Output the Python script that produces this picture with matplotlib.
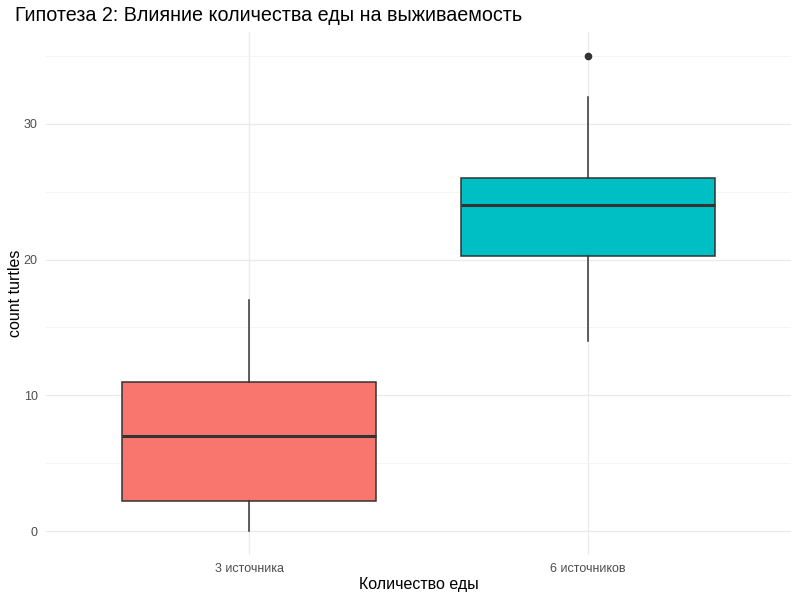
import matplotlib.pyplot as plt

plt.rcParams['font.family'] = ['Liberation Sans', 'DejaVu Sans']

# Box statistics
groups = ['3 источника', '6 источников']
whislo = [0, 14]
q1 = [2.25, 20.25]
med = [7, 24]
q3 = [11, 26]
whishi = [17, 32]
fliers = [[], [35]]
colors = ['#F8766D', '#00BFC4']

stats = []
for i, g in enumerate(groups):
    stats.append(dict(label=g, whislo=whislo[i], q1=q1[i], med=med[i],
                      q3=q3[i], whishi=whishi[i], fliers=fliers[i]))

fig = plt.figure(figsize=(8, 6), dpi=100)
ax = fig.add_axes([0.0575, 0.075, 0.9315, 0.8717])

bp = ax.bxp(stats, positions=[1, 2], widths=0.75, patch_artist=True,
            showcaps=False, zorder=3,
            boxprops=dict(edgecolor='#333333', linewidth=1.1),
            whiskerprops=dict(color='#333333', linewidth=1.1),
            medianprops=dict(color='#333333', linewidth=2.2),
            flierprops=dict(marker='o', markerfacecolor='#333333',
                            markeredgecolor='#333333', markersize=4.5))
for patch, c in zip(bp['boxes'], colors):
    patch.set_facecolor(c)

ax.set_xlim(0.4, 2.6)
ax.set_ylim(-1.75, 36.75)
ax.set_yticks([0, 10, 20, 30])
ax.set_yticks([5, 15, 25, 35], minor=True)
ax.set_xticks([1, 2])
ax.set_xticklabels(groups)

ax.grid(True, which='major', color='#EBEBEB', linewidth=1.0, zorder=0)
ax.grid(True, which='minor', axis='y', color='#F2F2F2', linewidth=0.6, zorder=0)
ax.set_axisbelow(True)
for s in ax.spines.values():
    s.set_visible(False)
ax.tick_params(which='both', length=0, labelsize=9, labelcolor='#4D4D4D', pad=6)

ax.set_xlabel('Количество еды', fontsize=11.5, labelpad=1)
ax.set_ylabel('count turtles', fontsize=11.5)
ax.yaxis.set_label_coords(-0.031, 0.5)
fig.text(0.019, 0.974, 'Гипотеза 2: Влияние количества еды на выживаемость',
         fontsize=14.2, va='center', ha='left')

fig.savefig('out.png', dpi=100)
